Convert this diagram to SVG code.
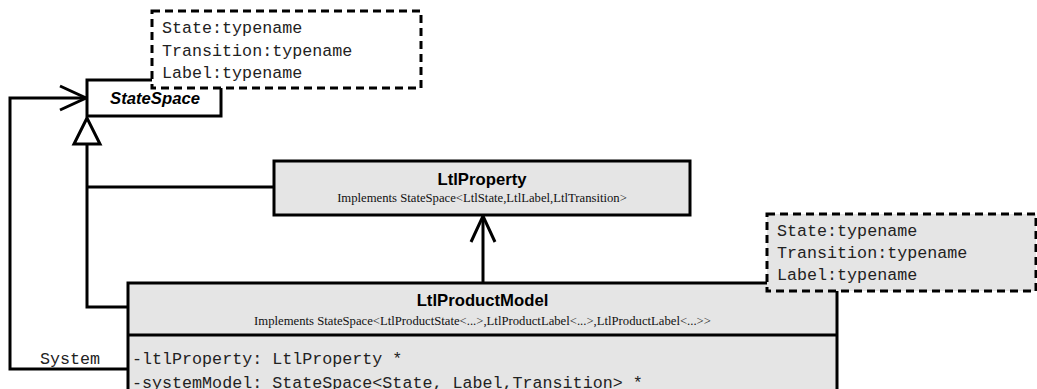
<svg xmlns="http://www.w3.org/2000/svg" width="1037" height="389" viewBox="0 0 1037 389">
<style>
.box{fill:#e5e5e5;stroke:#000;stroke-width:3}
.wbox{fill:#fff;stroke:#000;stroke-width:3}
.note{stroke:#000;stroke-width:3;stroke-dasharray:8 5}
.ln{fill:none;stroke:#000;stroke-width:3}
.title{font-family:"Liberation Sans",Arial,sans-serif;font-weight:bold;font-size:16.7px;text-anchor:middle;fill:#000}
.sub{font-family:"Liberation Serif","Times New Roman",serif;font-size:12.7px;text-anchor:middle;fill:#111}
.mono{font-family:"Liberation Mono","Courier New",monospace;font-size:16.7px;fill:#222}
</style>
<g id="connectors">
<polyline class="ln" points="128,369 10,369 10,98 86,98"/>
<polyline class="ln" points="60,86 86,98 60,110"/>
<polyline class="ln" points="128,307 87,307 87,144"/>
<line class="ln" x1="274" y1="187" x2="87" y2="187"/>
<polygon class="wbox" points="87,118 74,144 100,144"/>
<line class="ln" x1="483" y1="283" x2="483" y2="216"/>
<polyline class="ln" points="471,242 483,216 495,242"/>
<text class="mono" x="40" y="364">System</text>
</g>
<g id="StateSpace">
<rect class="wbox" x="87" y="80" width="134" height="36"/>
<text class="title" x="155" y="104" font-style="italic">StateSpace</text>
</g>
<g id="note1">
<rect class="note" x="152" y="11" width="269" height="77" fill="#fff"/>
<text class="mono" x="162" y="33">State:typename</text>
<text class="mono" x="162" y="56">Transition:typename</text>
<text class="mono" x="162" y="78">Label:typename</text>
</g>
<g id="LtlProperty">
<rect class="box" x="274" y="161" width="416" height="54"/>
<text class="title" x="482" y="185">LtlProperty</text>
<text class="sub" x="482" y="202">Implements StateSpace&lt;LtlState,LtlLabel,LtlTransition&gt;</text>
</g>
<g id="LtlProductModel">
<rect class="box" x="128" y="283" width="709" height="120"/>
<line class="ln" x1="128" y1="335" x2="837" y2="335"/>
<text class="title" x="482.5" y="306">LtlProductModel</text>
<text class="sub" x="482.5" y="325">Implements StateSpace&lt;LtlProductState&lt;...&gt;,LtlProductLabel&lt;...&gt;,LtlProductLabel&lt;...&gt;&gt;</text>
<text class="mono" x="132" y="364">-ltlProperty: LtlProperty *</text>
<text class="mono" x="132" y="388">-systemModel: StateSpace&lt;State, Label,Transition&gt; *</text>
</g>
<g id="note2">
<rect class="note" x="767" y="214" width="269" height="77" fill="#e5e5e5"/>
<text class="mono" x="777" y="236">State:typename</text>
<text class="mono" x="777" y="258">Transition:typename</text>
<text class="mono" x="777" y="280">Label:typename</text>
</g>
</svg>
